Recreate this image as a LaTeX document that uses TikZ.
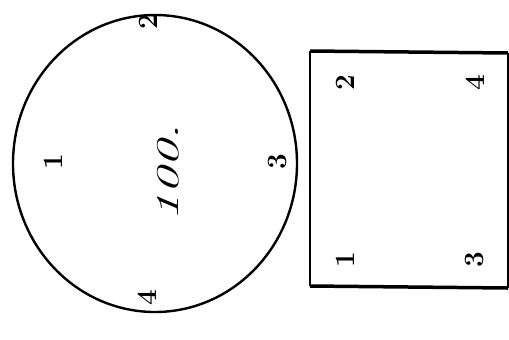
\documentclass[tikz,border=0pt]{standalone}
\begin{document}
\begin{tikzpicture}[x=1bp,y=-1bp,
  lbl/.style={rotate=90, inner sep=0pt, font=\fontsize{28}{28}\selectfont\bfseries},
  hand/.style={rotate=90, inner sep=0pt, font=\fontsize{32}{32}\selectfont\itshape, xscale=1.7}]
\useasboundingbox (0,0) rectangle (509,339);
% circle
\draw[line width=2.4bp] (155,163.5) ellipse [x radius=142, y radius=148.5];
\node[lbl] (c1) at (53,162) {1};
\node[lbl] (c3) at (278,162) {3};
\node[lbl] (c2) at (148,22) {2};
\node[lbl] (c4) at (147,298) {4};
\node[hand] (hw) at (168,173) {100.};
% rectangle
\coordinate (tl) at (310,51);
\coordinate (tr) at (508,53);
\coordinate (br) at (508,288);
\coordinate (bl) at (310,286);
\draw[line width=2bp] (tl) -- (bl);
\draw[line width=2bp] (tr) -- (br);
\draw[line width=3.5bp] (tl) -- (tr);
\draw[line width=3.5bp] (bl) -- (br);
\node[lbl] (r2) at (345,83) {2};
\node[lbl] (r4) at (475,83) {4};
\node[lbl] (r1) at (345,260) {1};
\node[lbl] (r3) at (475,260) {3};
\end{tikzpicture}
\end{document}
